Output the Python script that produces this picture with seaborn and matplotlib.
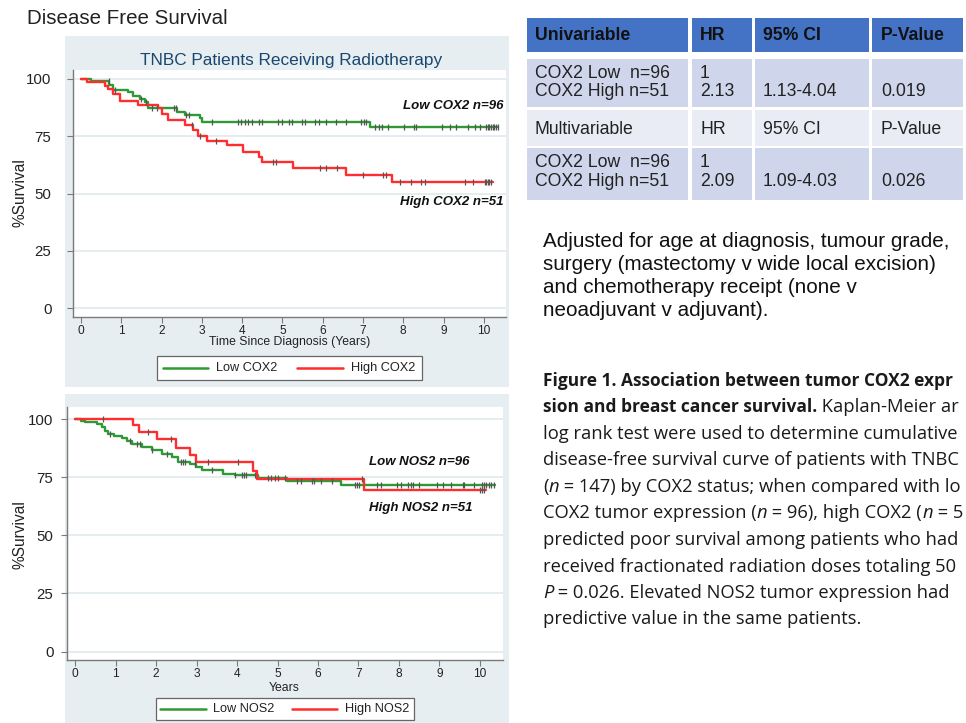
import numpy as np
import pandas as pd
import matplotlib
matplotlib.use("Agg")
import matplotlib.pyplot as plt
import seaborn as sns
from matplotlib.patches import Rectangle
from matplotlib.lines import Line2D
from matplotlib import font_manager as fm

# ---------------- data ----------------
years_ticks = list(range(0, 11))
surv_ticks = [0, 25, 50, 75, 100]

cox_low_t = [0, 0.24, 0.70, 0.80, 1.17, 1.30, 1.46, 1.59, 1.67, 2.37, 2.58, 2.95, 3.01, 7.17, 10.35]
cox_low_s = [100, 99.0, 97.4, 95.2, 94.2, 92.6, 91.3, 89.8, 87.5, 85.7, 84.3, 82.8, 81.2, 79.2, 79.2]
cox_low_cens = [0.69, 0.84, 1.5, 1.6, 1.77, 1.88, 2.3, 2.35, 2.6, 2.68, 3.24, 3.9, 3.98, 4.06, 4.14,
                4.24, 4.41, 4.5, 4.9, 5.0, 5.16, 5.24, 5.49, 5.57, 5.82, 5.9, 6.09, 6.34, 6.59, 6.94,
                7.02, 7.07, 7.31, 7.4, 7.48, 7.62, 8.03, 8.26, 8.32, 8.96, 9.17, 9.31, 9.6, 9.77, 9.91,
                10.06, 10.1, 10.14, 10.18, 10.22, 10.26, 10.3, 10.34]

cox_high_t = [0, 0.14, 0.60, 0.68, 0.80, 0.97, 1.42, 1.92, 2.00, 2.17, 2.58, 2.79, 2.91, 3.12, 3.62,
              4.01, 4.42, 4.50, 5.25, 6.59, 7.71, 10.23]
cox_high_s = [100, 98.6, 97.1, 95.6, 93.4, 90.4, 88.6, 87.2, 84.6, 82.1, 79.9, 77.7, 75.3, 73.1, 71.0,
              68.3, 66.1, 63.6, 61.0, 58.1, 54.9, 54.9]
cox_high_cens = [2.76, 2.95, 3.35, 4.77, 4.85, 5.94, 6.07, 6.36, 7.0, 7.5, 7.56, 7.93, 8.2, 8.45, 8.53,
                 9.54, 9.73, 10.02, 10.06, 10.1, 10.14, 10.18]

nos_low_t = [0, 0.14, 0.25, 0.53, 0.66, 0.74, 0.82, 0.95, 1.15, 1.28, 1.40, 1.65, 1.89, 2.14, 2.39,
             2.55, 2.84, 2.99, 3.13, 3.66, 3.95, 4.53, 5.24, 6.58, 10.37]
nos_low_s = [100, 99.3, 98.6, 97.9, 96.7, 95.0, 93.8, 92.8, 91.7, 90.7, 89.5, 88.1, 86.7, 85.2, 83.8,
             81.7, 80.5, 79.5, 78.1, 76.6, 75.8, 74.8, 73.2, 71.6, 71.6]
nos_low_cens = [0.86, 1.36, 1.54, 1.6, 1.89, 2.28, 2.61, 2.66, 2.72, 2.96, 3.37, 3.95, 4.12, 4.17, 4.22,
                4.44, 4.77, 4.83, 4.94, 5.0, 5.19, 5.49, 5.57, 5.84, 5.9, 6.07, 6.34, 6.91, 6.97, 7.02,
                7.45, 7.55, 7.96, 8.04, 8.23, 8.29, 8.34, 8.5, 8.95, 9.1, 9.28, 9.57, 9.6, 9.85, 10.04,
                10.1, 10.16, 10.22, 10.28, 10.34]

nos_high_t = [0, 1.42, 1.59, 2.02, 2.49, 2.84, 2.99, 4.40, 4.49, 7.14, 10.15]
nos_high_s = [100, 97.4, 94.3, 91.3, 87.4, 84.5, 81.4, 77.8, 74.2, 69.4, 69.4]
nos_high_cens = [0.7, 1.79, 2.36, 3.28, 4.02, 7.08, 10.0, 10.05, 10.1]

table_header = ["Univariable", "HR", "95% CI", "P-Value"]
table_row1 = ["COX2 Low  n=96\nCOX2 High n=51", "1\n2.13", "\n1.13-4.04", "\n0.019"]
table_row2 = ["Multivariable", "HR", "95% CI", "P-Value"]
table_row3 = ["COX2 Low  n=96\nCOX2 High n=51", "1\n2.09", "\n1.09-4.03", "\n0.026"]

adjusted_lines = ["Adjusted for age at diagnosis, tumour grade,",
                  "surgery (mastectomy v wide local excision)",
                  "and chemotherapy receipt (none v",
                  "neoadjuvant v adjuvant)."]

# caption text as visible in the reference (it is cropped at the right edge there)
caption = [
    [("Figure 1. Association between tumor COX2 expr", "bold", "normal")],
    [("sion and breast cancer survival.", "bold", "normal"), (" Kaplan-Meier ar", "normal", "normal")],
    [("log rank test were used to determine cumulative", "normal", "normal")],
    [("disease-free survival curve of patients with TNBC", "normal", "normal")],
    [("(", "normal", "normal"), ("n", "normal", "italic"),
     (" = 147) by COX2 status; when compared with lo", "normal", "normal")],
    [("COX2 tumor expression (", "normal", "normal"), ("n", "normal", "italic"),
     (" = 96), high COX2 (", "normal", "normal"), ("n", "normal", "italic"), (" = 5", "normal", "normal")],
    [("predicted poor survival among patients who had", "normal", "normal")],
    [("received fractionated radiation doses totaling 50", "normal", "normal")],
    [("P", "normal", "italic"), (" = 0.026. Elevated NOS2 tumor expression had", "normal", "normal")],
    [("predictive value in the same patients.", "normal", "normal")],
]

# ---------------- layout helpers ----------------
W, H = 966, 723
sns.set_theme(style="white")
plt.rcParams["font.family"] = ["Liberation Sans", "DejaVu Sans"]
fig = plt.figure(figsize=(W / 100, H / 100), dpi=100)
fig.patch.set_facecolor("white")
renderer = fig.canvas.get_renderer()


def fx(px):
    return px / W


def fy(py):
    return 1 - py / H


def rect(x0, y0, x1, y1, fc, ec="none", lw=0, z=-5):
    fig.add_artist(Rectangle((fx(x0), fy(y1)), fx(x1) - fx(x0), fy(y0) - fy(y1),
                             transform=fig.transFigure, facecolor=fc, edgecolor=ec,
                             lw=lw, zorder=z))


def text_width(text, size, family, weight="normal", style="normal"):
    t = fig.text(0, 0, text, fontsize=size, family=family, fontweight=weight, fontstyle=style)
    w = t.get_window_extent(renderer).width
    t.remove()
    return w


def fit_size(text, target_px, family, weight="normal", base=12.0):
    return base * target_px / text_width(text, base, family, weight)


PANEL = "#e7eef1"
GREEN = "#2f9a35"
RED = "#ff2d2d"
AXC = "#7a7a7a"

# gray panel backgrounds
rect(65, 36, 509, 387, PANEL)
rect(65, 394, 509, 723, PANEL)

fig.text(fx(27), fy(18), "Disease Free Survival", fontsize=14.8, color="#222", va="center", ha="left")


def km(ax, t, s, color, label):
    df = pd.DataFrame({"Years": t, "Survival": s})
    sns.lineplot(data=df, x="Years", y="Survival", ax=ax, color=color, lw=1.7,
                 drawstyle="steps-post", estimator=None, sort=False, label=label, legend=False)


def censor(ax, t, s, ct):
    idx = np.searchsorted(np.asarray(t), np.asarray(ct), side="right") - 1
    y = np.asarray(s)[idx]
    ax.scatter(ct, y, marker="|", s=22, color="#555555", linewidths=0.9, zorder=4)


def style_axes(ax, xlim, ylim, ypad):
    ax.set_xlim(*xlim)
    ax.set_ylim(*ylim)
    ax.set_xticks(years_ticks)
    ax.set_yticks(surv_ticks)
    ax.set_facecolor("white")
    for sp in ["top", "right"]:
        ax.spines[sp].set_visible(False)
    for sp in ["left", "bottom"]:
        ax.spines[sp].set_color(AXC)
        ax.spines[sp].set_linewidth(1.0)
    ax.yaxis.grid(True, color="#e4ecef", lw=1.3)
    ax.xaxis.grid(False)
    ax.set_axisbelow(True)
    ax.tick_params(axis="x", direction="out", length=4, width=0.8, color=AXC,
                   labelsize=8.6, pad=2, labelcolor="#222", bottom=True)
    ax.tick_params(axis="y", direction="out", length=4, width=0.8, color=AXC,
                   labelsize=10.8, pad=ypad, labelcolor="#222", left=True)
    ax.set_ylabel("")


# ---------------- top KM panel ----------------
ax1 = fig.add_axes([fx(73), fy(317), fx(506) - fx(73), fy(70) - fy(317)])
km(ax1, cox_low_t, cox_low_s, GREEN, "Low COX2")
km(ax1, cox_high_t, cox_high_s, RED, "High COX2")
censor(ax1, cox_low_t, cox_low_s, cox_low_cens)
censor(ax1, cox_high_t, cox_high_s, cox_high_cens)
style_axes(ax1, (-0.2, 10.55), (-3.9, 103.9), 11.5)
ax1.set_xlabel("Time Since Diagnosis (Years)", fontsize=8.8, color="#222")
ax1.xaxis.set_label_coords(0.501, -0.078)
ax1.text(10.5, 88.4, "Low COX2 n=96", fontsize=9.5, fontweight="bold", fontstyle="italic",
         ha="right", va="center", color="#111")
ax1.text(10.5, 46.3, "High COX2 n=51", fontsize=9.5, fontweight="bold", fontstyle="italic",
         ha="right", va="center", color="#111")
fig.text(fx(291), fy(60), "TNBC Patients Receiving Radiotherapy", fontsize=12.4,
         color="#1a476f", ha="center", va="center")
fig.text(fx(20), fy(193), "%Survival", rotation=90, fontsize=11.2, color="#222",
         ha="center", va="center")

# ---------------- bottom KM panel ----------------
ax2 = fig.add_axes([fx(67), fy(660), fx(503) - fx(67), fy(407) - fy(660)])
km(ax2, nos_low_t, nos_low_s, GREEN, "Low NOS2")
km(ax2, nos_high_t, nos_high_s, RED, "High NOS2")
censor(ax2, nos_low_t, nos_low_s, nos_low_cens)
censor(ax2, nos_high_t, nos_high_s, nos_high_cens)
style_axes(ax2, (-0.2, 10.57), (-3.6, 105.2), 5.8)
ax2.set_xlabel("Years", fontsize=8.8, color="#222")
ax2.xaxis.set_label_coords(0.498, -0.088)
ax2.text(7.25, 81.7, "Low NOS2 n=96", fontsize=9.5, fontweight="bold", fontstyle="italic",
         ha="left", va="center", color="#111")
ax2.text(7.25, 61.8, "High NOS2 n=51", fontsize=9.5, fontweight="bold", fontstyle="italic",
         ha="left", va="center", color="#111")
fig.text(fx(20), fy(535), "%Survival", rotation=90, fontsize=11.2, color="#222",
         ha="center", va="center")


# ---------------- legends (manual boxes) ----------------
def legend_box(x0, y0, x1, y1, items):
    rect(x0, y0, x1, y1, "white", ec="#666666", lw=0.9, z=2)
    yc = (y0 + y1) / 2
    for (lx0, lx1, tx, label, col) in items:
        fig.add_artist(Line2D([fx(lx0), fx(lx1)], [fy(yc), fy(yc)], color=col, lw=1.8,
                              transform=fig.transFigure, zorder=3))
        fig.text(fx(tx), fy(yc), label, fontsize=9.2, color="#222", ha="left", va="center", zorder=3)


legend_box(157, 356, 422, 380, [(163, 208, 216, "Low COX2", GREEN), (297, 343, 351, "High COX2", RED)])
legend_box(156, 698, 414, 720, [(160, 206, 213, "Low NOS2", GREEN), (292, 337, 345, "High NOS2", RED)])

# ---------------- table ----------------
cols = [(527, 688), (692, 752), (755, 869), (872, 963)]
rows = [(18, 52, "#4472c4", table_header, True),
        (59, 107, "#cfd5ea", table_row1, False),
        (110, 146, "#e9ebf5", table_row2, False),
        (148, 200, "#cfd5ea", table_row3, False)]
text_x = [535, 700, 763, 881]
for (r0, r1, colr, cells, bold) in rows:
    for ci, (c0, c1) in enumerate(cols):
        rect(c0, r0, c1, r1, colr, z=-4)
        lines = cells[ci].split("\n")
        if len(lines) == 1:
            ys = [(r0 + r1) / 2 + 1]
        else:
            ys = [r0 + 14.5, r0 + 33]
        for ln, yy in zip(lines, ys):
            if ln:
                fig.text(fx(text_x[ci]), fy(yy), ln, fontsize=12.7,
                         fontweight="bold" if bold else "normal",
                         color="#111" if bold else "#222", ha="left", va="center")

# ---------------- adjusted note ----------------
adj_size = fit_size(adjusted_lines[0], 407, ["Liberation Sans", "DejaVu Sans"])
for i, ln in enumerate(adjusted_lines):
    fig.text(fx(543), fy(242 + i * 22.8), ln, fontsize=adj_size, color="#111", ha="left", va="center")


# ---------------- caption ----------------
def has_bold(name):
    for f in fm.fontManager.ttflist:
        if f.name == name:
            w = f.weight if isinstance(f.weight, int) else 700 if "bold" in str(f.weight).lower() else 400
            if w >= 600:
                return True
    return False


CAP_FAMILY = "DejaVu Sans"
for cand in ["Open Sans", "Noto Sans", "Roboto", "Lato"]:
    if has_bold(cand):
        CAP_FAMILY = cand
        break
CAP = [CAP_FAMILY, "DejaVu Sans"]
CAPSIZE = fit_size("log rank test were used to determine cumulative", 419, CAP)
BOLDSIZE = fit_size("Figure 1. Association between tumor COX2 expr", 419, CAP, "bold")


def line_width(parts, reg, bold):
    return sum(text_width(t, bold if w == "bold" else reg, CAP, w, s) for t, w, s in parts)


# make sure every caption line stays inside the figure
scale = min(1.0, min(419.0 / line_width(p, CAPSIZE, BOLDSIZE) for p in caption))
CAPSIZE *= scale
BOLDSIZE *= scale


def segs(x, y, parts):
    cur = x
    for txt, weight, style in parts:
        t = fig.text(fx(cur), fy(y), txt, fontsize=BOLDSIZE if weight == "bold" else CAPSIZE,
                     fontweight=weight, fontstyle=style,
                     family=CAP, color="#1a1a1a", ha="left", va="center")
        bb = t.get_window_extent(renderer)
        cur = bb.x1


for i, parts in enumerate(caption):
    segs(543, 381 + i * 26.5, parts)

fig.savefig("out.png", dpi=100, facecolor="white")
